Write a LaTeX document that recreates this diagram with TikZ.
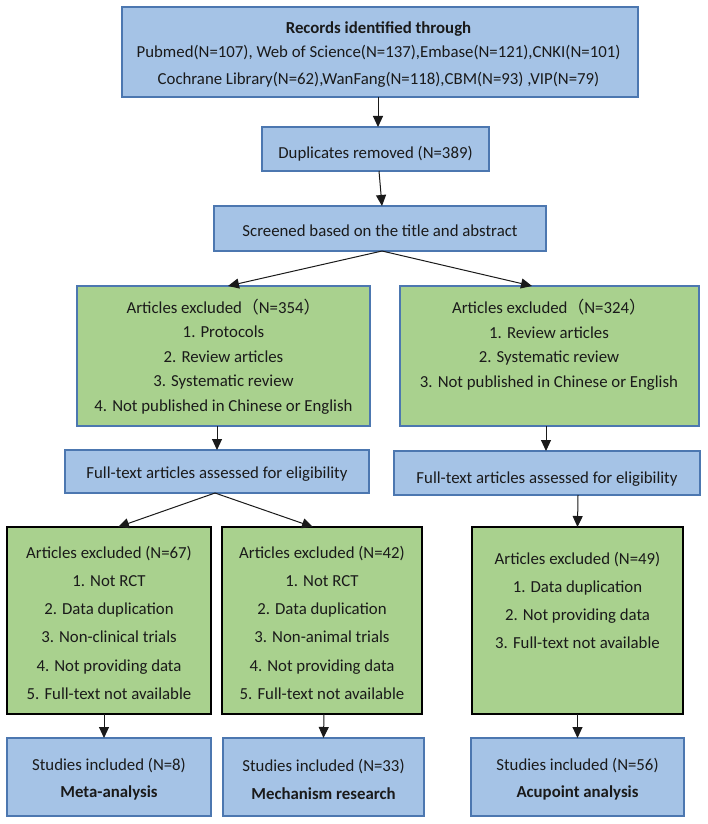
\documentclass[tikz,border=0pt]{standalone}
\usepackage{fontspec}
\setmainfont{Carlito}
\newfontfamily\cjk{Noto Sans CJK SC}
\usetikzlibrary{arrows.meta,calc}
\definecolor{bluefill}{HTML}{A5C3E6}
\definecolor{blueline}{HTML}{4C77B0}
\definecolor{greenfill}{HTML}{A9D18E}
\definecolor{ink}{HTML}{1A1A1A}
\begin{document}
\begin{tikzpicture}[x=1pt,y=-1pt,
  bluebox/.style={draw=blueline,fill=bluefill,line width=1.5pt,inner sep=0pt,outer sep=0pt},
  greenbox/.style={draw=blueline,fill=greenfill,line width=1.5pt,inner sep=0pt,outer sep=0pt},
  greenboxk/.style={draw=black,fill=greenfill,line width=2.2pt,inner sep=0pt,outer sep=0pt},
  txt/.style={anchor=base,inner sep=0pt,font=\fontsize{16.8}{20}\selectfont,text=ink},
  btxt/.style={txt,font=\fontsize{16.8}{20}\selectfont\bfseries},
  arr/.style={draw=ink,line width=1pt,-{Triangle[width=10pt,length=11pt]}}]
\useasboundingbox (0,0) rectangle (708,824);
\fill[white] (0,0) rectangle (708,824);

% boxes
\node[bluebox,minimum width=516pt,minimum height=90pt] (top) at (380,52) {};
\node[bluebox,minimum width=227pt,minimum height=44pt] (dup) at (375.5,149) {};
\node[bluebox,minimum width=332pt,minimum height=45pt] (scr) at (380,228.5) {};
\node[greenbox,minimum width=293pt,minimum height=140pt] (g1L) at (223.5,356) {};
\node[greenbox,minimum width=299pt,minimum height=140pt] (g1R) at (549.5,356) {};
\node[bluebox,minimum width=304pt,minimum height=43pt] (ftL) at (217,471.5) {};
\node[bluebox,minimum width=306pt,minimum height=44pt] (ftR) at (547,473) {};
\node[greenboxk,minimum width=204pt,minimum height=187pt] (g2a) at (109,620.5) {};
\node[greenboxk,minimum width=200pt,minimum height=187pt] (g2b) at (322,620.5) {};
\node[greenboxk,minimum width=211pt,minimum height=187pt] (g3) at (577.5,620.5) {};
\node[bluebox,minimum width=204pt,minimum height=78pt] (b1) at (109,777) {};
\node[bluebox,minimum width=201pt,minimum height=78pt] (b2) at (323.5,777) {};
\node[bluebox,minimum width=213pt,minimum height=78pt] (b3) at (577.5,777) {};

% texts
\node[btxt] (t1) at (378.5,34) {Records identified through};
\node[txt] (t2) at (378.5,57.3) {Pubmed(N=107), Web of Science(N=137),Embase(N=121),CNKI(N=101)};
\node[txt] (t3) at (378.5,84.3) {Cochrane Library(N=62),WanFang(N=118),CBM(N=93) ,VIP(N=79)};

\node[txt] (d1) at (375.5,158) {Duplicates removed (N=389)};
\node[txt] (s1) at (380,236) {Screened based on the title and abstract};

\node[txt] (l1) at (223.5,313) {Articles excluded{\cjk （}N=354{\cjk ）}};
\node[txt] (l2) at (223.5,337.5) {1. Protocols};
\node[txt] (l3) at (223.5,362) {2. Review articles};
\node[txt] (l4) at (223.5,386.5) {3. Systematic review};
\node[txt] (l5) at (223.5,411) {4. Not published in Chinese or English};

\node[txt] (r1) at (549,313.5) {Articles excluded{\cjk （}N=324{\cjk ）}};
\node[txt] (r2) at (549,338) {1. Review articles};
\node[txt] (r3) at (549,362.5) {2. Systematic review};
\node[txt] (r4) at (549,387) {3. Not published in Chinese or English};

\node[txt] (fl) at (217,478.3) {Full-text articles assessed for eligibility};
\node[txt] (fr) at (547,483.3) {Full-text articles assessed for eligibility};

\node[txt] (a1) at (109,558) {Articles excluded (N=67)};
\node[txt] (a2) at (109,586.5) {1. Not RCT};
\node[txt] (a3) at (109,614.5) {2. Data duplication};
\node[txt] (a4) at (109,642.5) {3. Non-clinical trials};
\node[txt] (a5) at (109,671) {4. Not providing data};
\node[txt] (a6) at (109,699) {5. Full-text not available};

\node[txt] (m1) at (322,558) {Articles excluded (N=42)};
\node[txt] (m2) at (322,586.5) {1. Not RCT};
\node[txt] (m3) at (322,614.5) {2. Data duplication};
\node[txt] (m4) at (322,642.5) {3. Non-animal trials};
\node[txt] (m5) at (322,671) {4. Not providing data};
\node[txt] (m6) at (322,699) {5. Full-text not available};

\node[txt] (c1) at (577.5,564) {Articles excluded (N=49)};
\node[txt] (c2) at (577.5,592) {1. Data duplication};
\node[txt] (c3) at (577.5,620) {2. Not providing data};
\node[txt] (c4) at (577.5,648) {3. Full-text not available};

\node[txt] (p1) at (109,770) {Studies included (N=8)};
\node[btxt] (p2) at (109,797.5) {Meta-analysis};
\node[txt] (q1) at (323.5,771.5) {Studies included (N=33)};
\node[btxt] (q2) at (323.5,799) {Mechanism research};
\node[txt] (u1) at (577.5,770) {Studies included (N=56)};
\node[btxt] (u2) at (577.5,797.5) {Acupoint analysis};

% connectors
\draw[arr] ($(top.south)+(-2,0)$) -- ($(dup.north)+(2.5,0)$);
\draw[arr] ($(dup.south)+(3.5,0)$) -- ($(scr.north)+(2,0)$);
\draw[arr] ($(scr.south)+(2,0)$) -- ($(g1L.north)+(4.5,0)$);
\draw[arr] ($(scr.south)+(2,0)$) -- ($(g1R.north)+(-17.5,0)$);
\draw[arr] ($(g1L.south)+(-6.5,0)$) -- (ftL.north);
\draw[arr] ($(g1R.south)+(-3.5,0)$) -- ($(ftR.north)+(-1,0)$);
\draw[arr] ($(ftL.south)+(-2,0)$) -- ($(g2a.north)+(9,0)$);
\draw[arr] ($(ftL.south)+(-2,0)$) -- ($(g2b.north)+(-9,0)$);
\draw[arr] ($(ftR.south)+(31,0)$) -- (g3.north);
\draw[arr] ($(g2a.south)+(-5,0)$) -- ($(b1.north)+(-5,0)$);
\draw[arr] ($(g2b.south)+(2,0)$) -- (b2.north);
\draw[arr] (g3.south) -- (b3.north);
\end{tikzpicture}
\end{document}
